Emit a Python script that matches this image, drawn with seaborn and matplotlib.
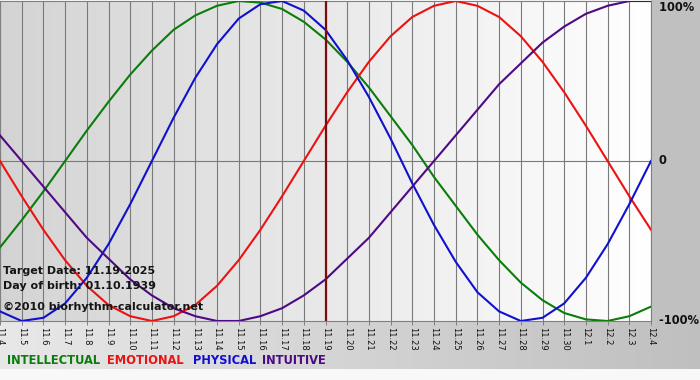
import numpy as np
import pandas as pd
import matplotlib
matplotlib.use("Agg")
import matplotlib.pyplot as plt
import seaborn as sns

# ---- data ----
day_labels = ["11.4", "11.5", "11.6", "11.7", "11.8", "11.9", "11.10", "11.11", "11.12",
              "11.13", "11.14", "11.15", "11.16", "11.17", "11.18", "11.19", "11.20",
              "11.21", "11.22", "11.23", "11.24", "11.25", "11.26", "11.27", "11.28",
              "11.29", "11.30", "12.1", "12.2", "12.3", "12.4"]
intellectual = [-0.54, -0.37, -0.19, 0.00, 0.19, 0.37, 0.54, 0.69, 0.82, 0.91, 0.97,
                1.00, 0.99, 0.95, 0.87, 0.76, 0.62, 0.46, 0.28, 0.10, -0.10, -0.28,
                -0.46, -0.62, -0.76, -0.87, -0.95, -0.99, -1.00, -0.97, -0.91]
emotional = [0.00, -0.22, -0.43, -0.62, -0.78, -0.90, -0.97, -1.00, -0.97, -0.90, -0.78,
             -0.62, -0.43, -0.22, 0.00, 0.22, 0.43, 0.62, 0.78, 0.90, 0.97, 1.00, 0.97,
             0.90, 0.78, 0.62, 0.43, 0.22, 0.00, -0.22, -0.43]
physical = [-0.94, -1.00, -0.98, -0.89, -0.73, -0.52, -0.27, 0.00, 0.27, 0.52, 0.73,
            0.89, 0.98, 1.00, 0.94, 0.82, 0.63, 0.40, 0.14, -0.14, -0.40, -0.63, -0.82,
            -0.94, -1.00, -0.98, -0.89, -0.73, -0.52, -0.27, 0.00]
intuitive = [0.16, 0.00, -0.16, -0.32, -0.48, -0.61, -0.74, -0.84, -0.92, -0.97, -1.00,
             -1.00, -0.97, -0.92, -0.84, -0.74, -0.61, -0.48, -0.32, -0.16, 0.00, 0.16,
             0.32, 0.48, 0.61, 0.74, 0.84, 0.92, 0.97, 1.00, 1.00]
series_names = ["INTELLECTUAL", "EMOTIONAL", "PHYSICAL", "INTUITIVE"]
target_label = "11.19"
y_labels = ["100%", "0", "-100%"]
y_label_vals = [1.0, 0.0, -1.0]

colors = {"INTELLECTUAL": "#0a7d0a", "EMOTIONAL": "#ec1212",
          "PHYSICAL": "#1010d0", "INTUITIVE": "#4e0a86"}

rows = []
for name, vals in zip(series_names, [intellectual, emotional, physical, intuitive]):
    for i, v in enumerate(vals):
        rows.append({"day": i, "value": v, "series": name})
df = pd.DataFrame(rows)

# ---- figure ----
W, H = 700, 380
fig = plt.figure(figsize=(W / 100, H / 100), dpi=100)

PX_R, PX_B = 651, 321  # plot area right / bottom in pixels
# background image (outer frame)
bg = np.ones((H, W, 3))
bg[:, :, :] = 0.975
bg[:PX_B, PX_R:, :] = 0.755
xs = np.linspace(0, 1, W)
band = 0.91 - 0.16 * xs
bg[PX_B:369, :, :] = band[None, :, None]
bgax = fig.add_axes([0, 0, 1, 1], zorder=0)
bgax.imshow(bg, aspect="auto", interpolation="bilinear")
bgax.axis("off")

ax = fig.add_axes([0, 1 - PX_B / H, PX_R / W, (PX_B - 1) / H], zorder=1)
ax.set_facecolor("none")
# plot-area gradient
grad = np.linspace(0.83, 1.0, 256)
gimg = np.repeat(grad[None, :, None], 3, axis=2)
ax.imshow(gimg, extent=(0, 1, 0, 1), transform=ax.transAxes, aspect="auto", zorder=0)

sns.lineplot(data=df, x="day", y="value", hue="series", palette=colors,
             hue_order=series_names, linewidth=1.5, legend=False, ax=ax, zorder=3)

ax.set_xlim(0, len(day_labels) - 1)
ax.set_ylim(-1.0, 1.0)
ax.set_xticks(range(len(day_labels)))
ax.set_xticklabels(day_labels, rotation=270, fontsize=6, color="#111111")
ax.tick_params(axis="x", length=3, width=0.7, color="#808080", pad=1.5)
ax.set_yticks([])
ax.set_xlabel("")
ax.set_ylabel("")
for i in range(len(day_labels)):
    ax.axvline(i, color="#7a7a7a", lw=0.8, zorder=1)
ax.axhline(0, color="#7a7a7a", lw=0.8, zorder=1)
ti = day_labels.index(target_label)
ax.axvline(ti, color="#7a0c0c", lw=1.6, zorder=4)
for s in ax.spines.values():
    s.set_color("#808080")
    s.set_linewidth(0.8)

for lab, v in zip(y_labels, y_label_vals):
    ax.text(1.0, v, "  " + lab, transform=ax.get_yaxis_transform(),
            ha="left", va="top" if v > 0 else "center",
            fontsize=8.3, fontweight="bold", color="#111111", clip_on=False)

ax.text(3 / PX_R, 1 - 271 / PX_B, "Target Date: 11.19.2025", transform=ax.transAxes,
        fontsize=8.0, fontweight="bold", color="#151515", va="center", zorder=5)
ax.text(3 / PX_R, 1 - 286 / PX_B, "Day of birth: 01.10.1939", transform=ax.transAxes,
        fontsize=8.0, fontweight="bold", color="#151515", va="center", zorder=5)
ax.text(3 / PX_R, 1 - 307 / PX_B, "\u00a92010 biorhythm-calculator.net", transform=ax.transAxes,
        fontsize=8.0, fontweight="bold", color="#151515", va="center", zorder=5)

legend_x = [7, 107, 193, 262]
for name, x in zip(series_names, legend_x):
    fig.text(x / W, 1 - 361 / H, name, fontsize=8.3, fontweight="bold",
             color=colors[name], va="center", ha="left")

fig.savefig("out.png", dpi=100, facecolor=fig.get_facecolor())
